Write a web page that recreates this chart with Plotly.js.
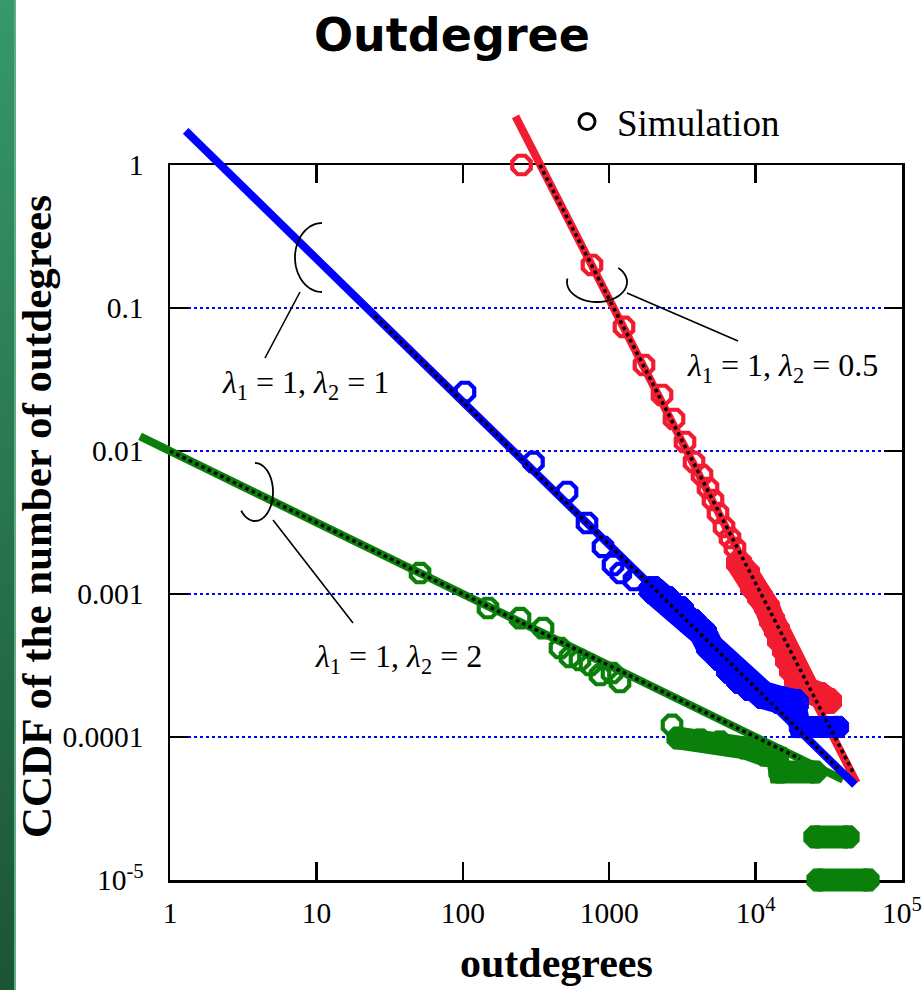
<!DOCTYPE html>
<html><head><meta charset="utf-8">
<script src="https://cdn.plot.ly/plotly-3.0.1.min.js"></script>
<style>
html,body{margin:0;padding:0;background:#fff;}
#wrap{position:relative;width:923px;height:990px;overflow:hidden;}
#chart{position:absolute;left:0;top:0;width:923px;height:990px;}
#bar{position:absolute;left:0;top:0;width:14px;height:990px;background:linear-gradient(#36986b,#1c5436);border-right:2px solid #5fae88;z-index:5;}
</style></head><body><div id="wrap"><div id="chart"></div><div id="bar"></div></div>
<script>
// ---------------- data ----------------
const xTickVals = [1, 10, 100, 1000, 1e4, 1e5];
const xTickText = ['1', '10', '100', '1000', '10<sup>4</sup>', '10<sup>5</sup>'];
const yTickVals = [1, 0.1, 0.01, 0.001, 0.0001, 0.00001];
const yTickText = ['1', '0.1', '0.01', '0.001', '0.0001', '10<sup>-5</sup>'];

// theoretical lines (end points)
const theoryRedX = [229, 48980];     const theoryRedY = [2.19, 4.79e-5];
const theoryBlueX = [1.28, 47750];   const theoryBlueY = [1.73, 4.62e-5];
const theoryGreenX = [0.624, 39540]; const theoryGreenY = [0.01266, 5.03e-5];

// numerical curves (black dotted)
const numRedX = [336.5, 46240];  const numRedY = [1.0, 5.69e-5];
const numBlueX = [25.1, 37740];  const numBlueY = [0.0879, 5.85e-5];
const numGreenX = [1, 20100];    const numGreenY = [0.01, 7.05e-5];

// simulation: separate points
const simRedX = [251.8, 762.9, 1262, 1729, 2295, 2771, 3295, 3796, 4304, 4730, 5117, 5537, 6085, 6686, 7233];
const simRedY = [1, 0.1999, 0.0737, 0.03993, 0.02464, 0.01674, 0.01156, 0.008377, 0.006796, 0.005511, 0.004544, 0.003685, 0.002941, 0.002464, 0.002098];
const simBlueX = [103.5, 304, 515, 705.4, 907.1, 1062, 1200, 1477];
const simBlueY = [0.02586, 0.008377, 0.005168, 0.003137, 0.002132, 0.001595, 0.001402, 0.001253];
const simGreenX = [51.03, 148.6, 245.9, 353, 461.3, 539.8, 631.8, 739.4, 865.3, 1045, 1185, 2685];
const simGreenY = [0.001402, 0.000798, 0.000679, 0.000578, 0.000419, 0.0003625, 0.0003455, 0.0003188, 0.0002713, 0.0002803, 0.0002424, 0.0001214];

// simulation: dense tails (overlapping points)
const tailRedX = [7701, 8737, 9600, 10716, 11963, 12940, 13996, 14678, 15877, 16645, 17728, 19180, 22448, 27540, 31730];
const tailRedY = [0.001647, 0.001402, 0.001119, 0.000953, 0.000811, 0.000658, 0.00056, 0.000477, 0.000406, 0.0003455, 0.000294, 0.0002503, 0.0002131, 0.0001966, 0.0001785];
const tailBlueX = [1992, 2482, 3045, 3736, 4372, 4881, 5713, 6686, 7824, 9157, 11232, 14678, 18580];
const tailBlueY = [0.001067, 0.000908, 0.000773, 0.000627, 0.000534, 0.000426, 0.0003625, 0.000294, 0.0002503, 0.0002237, 0.0001966, 0.0001814, 0.000173];
const runBlueX = [18580, 20110, 36540];
const runBlueY = [0.000173, 0.0001175, 0.0001175];
const tailGreenX = [2951, 4172, 5713, 8466, 11595, 14003, 14678, 25450, null, 25450, 42770, null, 26690, 58600];
const tailGreenY = [9.84e-5, 9.53e-5, 9.23e-5, 8.38e-5, 7.48e-5, 7.25e-5, 5.69e-5, 5.69e-5, null, 2e-5, 2e-5, null, 1e-5, 1e-5];

const labels = ['<i>λ</i><sub>1</sub> = 1, <i>λ</i><sub>2</sub> = 1',
                '<i>λ</i><sub>1</sub> = 1, <i>λ</i><sub>2</sub> = 2',
                '<i>λ</i><sub>1</sub> = 1, <i>λ</i><sub>2</sub> = 0.5'];

// ---------------- style / layout ----------------
const W = 923, H = 990;
const RED = '#f21c30', BLUE = '#0000ff', GREEN = '#0a800a';
const fx = v => v / W, fy = v => 1 - v / H;
// frame in pixels
const FL = 170, FR = 902, FT = 165, FB = 880;
const decX = (FR - FL) / 5, decY = (FB - FT) / 5;
// data overlay area in pixels
const DL = 125, DR = 920, DT = 92, DB = 905;
const SERIF = 'Liberation Serif, Times New Roman, serif';

function arcPath(cx, cy, rx, ry, a0, a1) {
  let s = ''; const n = 48;
  for (let i = 0; i <= n; i++) {
    const t = (a0 + (a1 - a0) * i / n) * Math.PI / 180;
    s += (i ? 'L' : 'M') + fx(cx + rx * Math.cos(t)).toFixed(5) + ',' + fy(cy + ry * Math.sin(t)).toFixed(5);
  }
  return s;
}

const lineT = (x, y, c, w) => ({x, y, type: 'scatter', mode: 'lines', xaxis: 'x2', yaxis: 'y2',
  line: {color: c, width: w}, showlegend: false, hoverinfo: 'skip'});
const simT = (x, y, c) => ({x, y, type: 'scatter', mode: 'markers', xaxis: 'x2', yaxis: 'y2', cliponaxis: false,
  marker: {symbol: 'octagon-open', size: 20, color: c, line: {color: c, width: 4.2}}, showlegend: false, hoverinfo: 'skip'});
const tailT = (x, y, c, w) => ({x, y, type: 'scatter', mode: 'lines+markers', xaxis: 'x2', yaxis: 'y2', cliponaxis: false,
  connectgaps: false, line: {color: c, width: w},
  marker: {symbol: 'octagon', size: w + 1, color: c, line: {color: c, width: 1}}, showlegend: false, hoverinfo: 'skip'});
const numT = (x, y) => ({x, y, type: 'scatter', mode: 'lines', xaxis: 'x2', yaxis: 'y2',
  line: {color: '#000', width: 3.5, dash: 'dot'}, showlegend: false, hoverinfo: 'skip'});

const traces = [
  lineT(theoryGreenX, theoryGreenY, GREEN, 8),
  lineT(theoryRedX, theoryRedY, RED, 8),
  lineT(theoryBlueX, theoryBlueY, BLUE, 8),
  tailT(tailRedX, tailRedY, RED, 26), simT(simRedX, simRedY, RED),
  tailT(tailGreenX, tailGreenY, GREEN, 23), simT(simGreenX, simGreenY, GREEN),
  tailT(tailBlueX, tailBlueY, BLUE, 28), tailT(runBlueX, runBlueY, BLUE, 22), simT(simBlueX, simBlueY, BLUE),
  numT(numGreenX, numGreenY), numT(numRedX, numRedY), numT(numBlueX, numBlueY),
  {x: [null], y: [null], type: 'scatter', mode: 'markers', name: 'Simulation', xaxis: 'x', yaxis: 'y',
   marker: {symbol: 'circle-open', size: 16, color: '#000', line: {color: '#000', width: 3}}, showlegend: true}
];

const tickFont = {family: SERIF, size: 29.5, color: '#000'};
const axisCommon = {type: 'log', visible: true, showline: true, linecolor: '#000', linewidth: 2.5, mirror: 'ticks',
  ticks: 'inside', ticklen: 18, tickwidth: 2.5, tickcolor: '#000', zeroline: false, tickfont: tickFont,
  fixedrange: true, autorange: false, tickmode: 'array', showticklabels: true};

const layout = {
  width: W, height: H, margin: {l: 0, r: 0, t: 0, b: 0},
  paper_bgcolor: '#fff', plot_bgcolor: 'rgba(0,0,0,0)',
  title: {text: '<b>Outdegree</b>', font: {family: 'DejaVu Sans, sans-serif', size: 46, color: '#000'},
          x: 452 / W, xanchor: 'center', y: 1 - 35 / H, yanchor: 'middle', xref: 'paper', yref: 'container'},
  xaxis: Object.assign({}, axisCommon, {domain: [FL / W, FR / W], range: [0, 5], anchor: 'y',
    tickvals: xTickVals, ticktext: xTickText, showgrid: false, ticklabelstandoff: 5}),
  yaxis: Object.assign({}, axisCommon, {domain: [1 - FB / H, 1 - FT / H], range: [-5, 0], anchor: 'x',
    tickvals: yTickVals, ticktext: yTickText, showgrid: true, gridcolor: '#0000ff', gridwidth: 1.5,
    griddash: 'dot', ticklabelstandoff: 18}),
  xaxis2: {type: 'log', visible: false, anchor: 'y2', domain: [DL / W, DR / W],
    range: [-(FL - DL) / decX, 5 + (DR - FR) / decX], fixedrange: true, autorange: false},
  yaxis2: {type: 'log', visible: false, anchor: 'x2', domain: [1 - DB / H, 1 - DT / H],
    range: [-5 - (DB - FB) / decY, (FT - DT) / decY], fixedrange: true, autorange: false},
  showlegend: true,
  legend: {x: 557 / W, y: 1 - 122 / H, xanchor: 'left', yanchor: 'middle', bgcolor: 'rgba(0,0,0,0)',
    borderwidth: 0, itemwidth: 50, font: {family: SERIF, size: 37, color: '#000'}},
  shapes: [
    {type: 'path', xref: 'paper', yref: 'paper', path: arcPath(322, 257.5, 27, 34.5, 90, 270), line: {color: '#000', width: 1.8}},
    {type: 'path', xref: 'paper', yref: 'paper', path: arcPath(255, 492, 18, 29, -90, 140), line: {color: '#000', width: 1.8}},
    {type: 'path', xref: 'paper', yref: 'paper', path: arcPath(597, 282, 30, 20, -45, 190), line: {color: '#000', width: 1.8}},
    {type: 'line', xref: 'paper', yref: 'paper', x0: fx(300), y0: fy(292), x1: fx(265), y1: fy(358), line: {color: '#000', width: 1.6}},
    {type: 'line', xref: 'paper', yref: 'paper', x0: fx(273), y0: fy(520), x1: fx(353), y1: fy(623), line: {color: '#000', width: 1.6}},
    {type: 'line', xref: 'paper', yref: 'paper', x0: fx(627), y0: fy(293), x1: fx(738), y1: fy(341), line: {color: '#000', width: 1.6}}
  ],
  annotations: [
    {text: labels[0], xref: 'paper', yref: 'paper', x: fx(305), y: fy(385), xanchor: 'center', yanchor: 'middle', showarrow: false,
     font: {family: SERIF, size: 32, color: '#000'}},
    {text: labels[1], xref: 'paper', yref: 'paper', x: fx(398), y: fy(658), xanchor: 'center', yanchor: 'middle', showarrow: false,
     font: {family: SERIF, size: 32, color: '#000'}},
    {text: labels[2], xref: 'paper', yref: 'paper', x: fx(782), y: fy(368), xanchor: 'center', yanchor: 'middle', showarrow: false,
     font: {family: SERIF, size: 32, color: '#000'}},
    {text: '<b>outdegrees</b>', xref: 'paper', yref: 'paper', x: fx(556), y: fy(963), xanchor: 'center', yanchor: 'middle', showarrow: false,
     font: {family: SERIF, size: 42, color: '#000'}},
    {text: '<b>CCDF of the number of outdegrees</b>', xref: 'paper', yref: 'paper', x: fx(36), y: fy(517), textangle: -90,
     xanchor: 'center', yanchor: 'middle', showarrow: false, font: {family: SERIF, size: 43, color: '#000'}}
  ]
};

Plotly.newPlot('chart', traces, layout, {displayModeBar: false, staticPlot: true});
</script></body></html>
